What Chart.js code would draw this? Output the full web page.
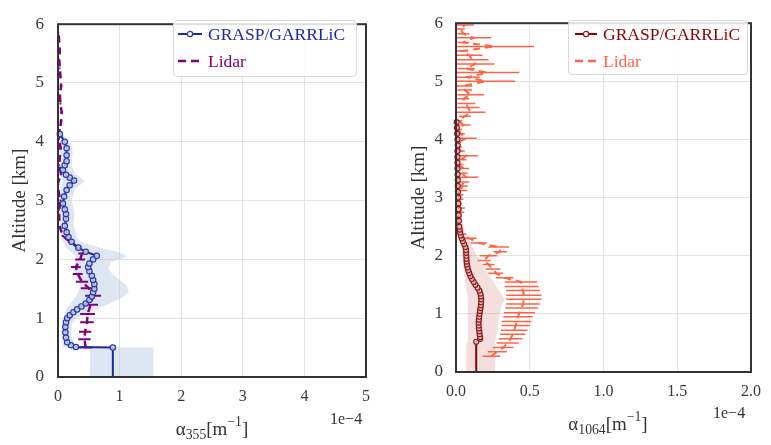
<!DOCTYPE html>
<html><head><meta charset="utf-8">
<script src="https://cdn.jsdelivr.net/npm/chart.js@4.4.0/dist/chart.umd.min.js"></script>
<style>
body{margin:0;background:#fff;width:771px;height:445px;overflow:hidden;position:relative;font-family:"Liberation Serif","Times New Roman",serif;}
.wrap{position:absolute;top:0;height:445px;}
.txt{position:absolute;color:#333;white-space:nowrap;line-height:1;}
.txt sub{font-size:0.72em;vertical-align:-0.3em;line-height:0;}
.txt sup{font-size:0.72em;vertical-align:0.65em;line-height:0;}
.legend{position:absolute;background:rgba(255,255,255,0.85);border:1px solid #d9d9d9;border-radius:4px;box-sizing:border-box;}
.row{position:absolute;left:0;height:22px;font-size:17.5px;line-height:22px;white-space:nowrap;}
.row svg{position:absolute;top:5px;}
.row span{position:absolute;}
</style></head>
<body>
<div class="wrap" style="left:0;width:385px"><canvas id="c1" width="385" height="445"></canvas></div>
<div class="wrap" style="left:385px;width:386px"><canvas id="c2" width="386" height="445"></canvas></div>

<div class="txt" style="left:112px;width:200px;text-align:center;top:419px;font-size:19px">α<sub>355</sub>[m<sup>−1</sup>]</div>
<div class="txt" style="left:330px;top:411px;font-size:16px">1e−4</div>
<div class="txt" style="left:508px;width:200px;text-align:center;top:414px;font-size:19px">α<sub>1064</sub>[m<sup>−1</sup>]</div>
<div class="txt" style="left:713px;top:405px;font-size:16px">1e−4</div>

<div class="legend" style="left:173px;top:20px;width:184px;height:57px">
  <div class="row" style="top:2px;width:180px;color:#1c2a9e">
    <svg width="24" height="12" style="left:4px"><line x1="0" y1="6" x2="24" y2="6" stroke="#1c2a9e" stroke-width="2"/><circle cx="12" cy="6" r="2.6" fill="#fff" stroke="#2a3aa8" stroke-width="1.2"/></svg>
    <span style="left:34px">GRASP/GARRLiC</span></div>
  <div class="row" style="top:29px;width:180px;color:#800080">
    <svg width="24" height="12" style="left:4px"><line x1="0" y1="6" x2="24" y2="6" stroke="#800080" stroke-width="2.5" stroke-dasharray="8,5"/></svg>
    <span style="left:34px">Lidar</span></div>
</div>
<div class="legend" style="left:568px;top:20px;width:180px;height:55px">
  <div class="row" style="top:2px;width:176px;color:#8b0000">
    <svg width="24" height="12" style="left:6px"><line x1="0" y1="6" x2="22" y2="6" stroke="#8b0000" stroke-width="2"/><circle cx="11" cy="6" r="2.6" fill="#fff" stroke="#8b1a1a" stroke-width="1.2"/></svg>
    <span style="left:34px">GRASP/GARRLiC</span></div>
  <div class="row" style="top:29px;width:176px;color:#ff6347">
    <svg width="24" height="12" style="left:6px"><line x1="0" y1="6" x2="22" y2="6" stroke="#ff6347" stroke-width="2.5" stroke-dasharray="8,5"/></svg>
    <span style="left:34px">Lidar</span></div>
</div>

<script>
// ---- tick labels ----
const yTicks = [0, 1, 2, 3, 4, 5, 6];
const leftXTicks = [0, 1, 2, 3, 4, 5];
const rightXTicks = [0, 0.5, 1.0, 1.5, 2.0];

// ---- left panel (355 nm), values in 1e-4 m^-1 ----
const leftGraspAlt = [0.0,0.5,0.51,0.54,0.59,0.67,0.76,0.85,0.93,1.0,1.05,1.1,1.15,1.2,1.25,1.31,1.37,1.44,1.5,1.58,1.65,1.72,1.8,1.87,1.93,2.0,2.06,2.13,2.2,2.3,2.38,2.46,2.57,2.69,2.77,2.85,2.95,3.07,3.18,3.26,3.34,3.39,3.44,3.52,3.6,3.67,3.77,3.89,4.0,4.13];
const leftGraspVal = [0.89,0.89,0.29,0.21,0.15,0.13,0.12,0.12,0.13,0.15,0.19,0.25,0.31,0.38,0.45,0.51,0.55,0.57,0.59,0.59,0.57,0.55,0.51,0.49,0.51,0.57,0.63,0.45,0.33,0.22,0.17,0.14,0.11,0.13,0.13,0.11,0.08,0.10,0.14,0.19,0.26,0.19,0.13,0.08,0.11,0.14,0.14,0.14,0.11,0.03];

const leftBandAlt  = [0, 0.5, 0.5, 0.55, 0.7, 0.9, 1.0, 1.05, 1.15, 1.25, 1.35, 1.45, 1.55, 1.65, 1.75, 1.85, 1.95, 2.05, 2.12, 2.2, 2.3, 2.4, 2.6, 2.8, 3.0, 3.2, 3.33, 3.45, 3.6, 3.8, 3.95, 4.1, 4.15];
const leftBandLow  = [0.52, 0.52, 0.07, 0.07, 0.06, 0.06, 0.08, 0.1, 0.13, 0.2, 0.28, 0.33, 0.36, 0.33, 0.29, 0.27, 0.28, 0.3, 0.22, 0.14, 0.08, 0.05, 0.04, 0.04, 0.03, 0.04, 0.08, 0.04, 0.03, 0.04, 0.03, 0.01, 0.02];
const leftBandHigh = [1.55, 1.55, 0.36, 0.26, 0.22, 0.22, 0.3, 0.41, 0.6, 0.84, 1.05, 1.15, 1.12, 1.0, 0.88, 0.82, 0.86, 1.12, 1.0, 0.68, 0.36, 0.3, 0.25, 0.27, 0.22, 0.28, 0.44, 0.28, 0.22, 0.24, 0.22, 0.1, 0.02];

const leftLidarAlt = [0.5,0.64,0.77,0.93,1.07,1.23,1.38,1.51,1.62,1.75,1.87,2.0,2.1,2.2,2.3,2.4,2.55,2.7,2.85,3.0,3.15,3.3,3.45,3.6,3.75,3.9,4.05,4.2,4.35,4.5,4.65,4.8,4.95,5.1,5.25,5.4,5.55,5.7,5.85];
const leftLidarVal = [0.45,0.43,0.44,0.47,0.48,0.53,0.57,0.5,0.39,0.32,0.29,0.36,0.39,0.33,0.19,0.08,0.03,0.02,0.02,0.04,0.01,0.0,0.05,0.02,0.03,0.04,0.02,0.03,0.05,0.06,0.04,0.03,0.05,0.04,0.03,0.02,0.03,0.02,0.01];
const leftLidarErr = [0.11,0.1,0.1,0.11,0.12,0.12,0.13,0.13,0.1,0.08,0.08,0.08,0.06,0.05,0.03,0.02,0.015,0.01,0.01,0.015,0.01,0.01,0.02,0.01,0.015,0.02,0.01,0.015,0.02,0.02,0.015,0.01,0.02,0.015,0.01,0.01,0.015,0.01,0.01];

// ---- right panel (1064 nm), values in 1e-4 m^-1 ----
const rightGraspAlt = [0.0,0.52,0.57,0.60,0.65,0.70,0.75,0.80,0.85,0.90,0.95,1.00,1.05,1.10,1.15,1.20,1.25,1.30,1.35,1.40,1.45,1.50,1.55,1.60,1.65,1.70,1.75,1.80,1.85,1.90,1.95,2.00,2.05,2.10,2.15,2.20,2.25,2.30,2.35,2.40,2.45,2.50,2.6,2.7,2.8,2.9,3.0,3.1,3.2,3.3,3.4,3.5,3.6,3.7,3.8,3.9,4.0,4.1,4.2,4.3];
const rightGraspVal = [0.137,0.137,0.164,0.163,0.16,0.158,0.155,0.154,0.153,0.155,0.157,0.16,0.163,0.166,0.169,0.17,0.171,0.169,0.165,0.158,0.146,0.132,0.12,0.108,0.098,0.09,0.083,0.078,0.074,0.072,0.071,0.07,0.069,0.068,0.064,0.055,0.046,0.038,0.032,0.028,0.025,0.022,0.02,0.018,0.017,0.016,0.015,0.013,0.012,0.012,0.011,0.01,0.01,0.01,0.01,0.012,0.01,0.008,0.006,0.004];

const rightBandAlt  = [0, 0.5, 0.5, 0.7, 0.9, 1.05, 1.15, 1.25, 1.4, 1.57, 1.76, 1.92, 2.08, 2.25, 2.42, 2.6, 3.0, 3.5, 4.0, 4.3];
const rightBandLow  = [0.07, 0.07, 0.08, 0.08, 0.08, 0.08, 0.08, 0.08, 0.07, 0.06, 0.05, 0.045, 0.04, 0.03, 0.015, 0.01, 0.005, 0.005, 0.003, 0.0];
const rightBandHigh = [0.265, 0.265, 0.26, 0.28, 0.29, 0.3, 0.31, 0.33, 0.29, 0.25, 0.2, 0.16, 0.126, 0.093, 0.06, 0.045, 0.035, 0.03, 0.025, 0.0];

const rightLidarAlt = [0.27,0.35,0.42,0.50,0.57,0.65,0.72,0.80,0.87,0.95,1.02,1.10,1.17,1.25,1.32,1.40,1.47,1.55,1.62,1.70,1.77,1.85,1.92,2.00,2.07,2.15,2.22,2.30,2.37,2.45,2.52,2.60,2.67,2.75,2.82,2.90,2.97,3.05,3.12,3.20,3.27,3.35,3.42,3.50,3.57,3.65,3.72,3.80,3.87,3.95,4.02,4.10,4.17,4.25,4.32,4.40,4.47,4.55,4.62,4.70,4.77,4.85,4.92,5.00,5.07,5.15,5.22,5.30,5.37,5.45,5.52,5.60,5.67,5.75,5.82,5.90,5.97];
const rightLidarVal = [0.24,0.28,0.32,0.35,0.37,0.385,0.395,0.405,0.41,0.42,0.43,0.445,0.455,0.46,0.46,0.455,0.445,0.44,0.33,0.27,0.25,0.22,0.19,0.22,0.30,0.29,0.155,0.09,0.04,
  0.02,0.02,0.015,0.02,0.03,0.03,0.02,0.025,0.03,0.035,0.04,0.05,0.07,0.04,0.05,0.02,0.03,0.07,0.03,0.02,0.015,0.07,0.03,0.02,0.05,0.02,0.06,0.1,0.08,0.07,0.05,0.1,0.06,0.05,0.2,0.08,0.21,0.07,0.13,0.11,0.09,0.04,0.26,0.05,0.12,0.05,0.03,0.06];
const rightLidarErr = [0.06,0.065,0.07,0.075,0.08,0.085,0.09,0.095,0.1,0.1,0.105,0.11,0.115,0.12,0.12,0.115,0.115,0.11,0.06,0.05,0.05,0.04,0.045,0.06,0.045,0.07,0.055,0.05,0.03,
  0.015,0.02,0.02,0.02,0.025,0.03,0.02,0.025,0.02,0.04,0.04,0.04,0.08,0.04,0.04,0.03,0.04,0.08,0.03,0.02,0.02,0.07,0.03,0.02,0.05,0.02,0.04,0.1,0.08,0.06,0.04,0.09,0.05,0.06,0.2,0.08,0.22,0.06,0.13,0.11,0.09,0.04,0.27,0.04,0.12,0.04,0.03,0.06];

// ---- helpers building library data tables from the arrays ----
function profile(alt, val) { return alt.map((a, i) => ({x: val[i], y: a})); }
function bandPolygon(alt, lo, hi) {
  const pts = alt.map((a, i) => ({x: lo[i], y: a}));
  for (let i = alt.length - 1; i >= 0; i--) pts.push({x: hi[i], y: alt[i]});
  return pts;
}
function errorSegments(alt, val, err) {
  const pts = [];
  alt.forEach((a, i) => { pts.push({x: val[i] - err[i], y: a}, {x: val[i] + err[i], y: a}, {x: null, y: null}); });
  return pts;
}

const framePlugin = {
  id: 'frame',
  afterDatasetsDraw(chart) {
    const {ctx, chartArea: a} = chart;
    ctx.save();
    ctx.strokeStyle = '#333';
    ctx.lineWidth = 2;
    ctx.strokeRect(a.left, a.top, a.right - a.left, a.bottom - a.top);
    ctx.restore();
  }
};

const FONT = '"Liberation Serif", "Times New Roman", serif';

function makeChart(id, p) {
  return new Chart(document.getElementById(id), {
    type: 'scatter',
    data: {
      datasets: [
        { // GRASP profile
          data: profile(p.graspAlt, p.graspVal), showLine: true, order: 0,
          borderColor: p.graspColor, borderWidth: 2,
          pointRadius: c => (c.raw && c.raw.y === 0 ? 0 : p.markerR),
          pointBorderColor: p.markerEdge, pointBorderWidth: 1.2,
          pointBackgroundColor: p.markerFill, clip: 4
        },
        { // lidar line
          data: profile(p.lidarAlt, p.lidarVal), showLine: true, order: 1,
          borderColor: p.lidarColor, borderWidth: p.lidarWidth, borderDash: [7, 5],
          pointRadius: 0
        },
        { // lidar error bars
          data: errorSegments(p.lidarAlt, p.lidarVal, p.lidarErr), showLine: true, order: 2,
          borderColor: p.lidarColor, borderWidth: p.errWidth, spanGaps: false, pointRadius: 0
        },
        { // uncertainty band
          data: bandPolygon(p.bandAlt, p.bandLow, p.bandHigh), showLine: true, order: 3,
          borderWidth: 0, borderColor: 'rgba(0,0,0,0)', pointRadius: 0,
          backgroundColor: p.bandColor, fill: 'shape'
        }
      ]
    },
    options: {
      responsive: false, animation: false,
      layout: {padding: p.padding},
      plugins: {legend: {display: false}, tooltip: {enabled: false}},
      scales: {
        x: {
          type: 'linear', min: 0, max: p.xTicks[p.xTicks.length - 1],
          afterBuildTicks: s => { s.ticks = p.xTicks.map(v => ({value: v})); },
          afterFit: s => { s.height = p.xHeight; },
          grid: {color: '#e4e4e4', lineWidth: 1, drawTicks: false},
          border: {display: false},
          ticks: {padding: 10, color: '#3a3a3a', font: {family: FONT, size: 16},
                  callback: v => p.xFmt(v), maxRotation: 0}
        },
        y: {
          type: 'linear', min: 0, max: 6,
          afterBuildTicks: s => { s.ticks = yTicks.map(v => ({value: v})); },
          afterFit: s => { s.width = p.yWidth; },
          grid: {color: '#e4e4e4', lineWidth: 1, drawTicks: false},
          border: {display: false},
          ticks: {padding: p.yPad, color: '#3a3a3a', font: {family: FONT, size: 17}},
          title: {display: true, text: 'Altitude [km]', color: '#333',
                  font: {family: FONT, size: 19}, padding: {top: 9, bottom: 0}}
        }
      }
    },
    plugins: [framePlugin]
  });
}

makeChart('c1', {
  graspAlt: leftGraspAlt, graspVal: leftGraspVal, graspColor: '#1c2a9e', markerEdge: '#2a3aa8',
  markerR: 2.7, markerFill: 'rgba(210,222,240,0.8)',
  lidarAlt: leftLidarAlt, lidarVal: leftLidarVal, lidarErr: leftLidarErr,
  lidarColor: '#800080', lidarWidth: 2.5, errWidth: 2,
  bandAlt: leftBandAlt, bandLow: leftBandLow, bandHigh: leftBandHigh, bandColor: 'rgba(176,196,222,0.42)',
  xTicks: leftXTicks, xFmt: v => String(v),
  padding: {top: 11, right: 19, left: 0, bottom: 0}, xHeight: 68, yWidth: 58, yPad: 14
});

makeChart('c2', {
  graspAlt: rightGraspAlt, graspVal: rightGraspVal, graspColor: '#8b0000', markerEdge: '#8b1a1a',
  markerR: 2.5, markerFill: 'rgba(245,215,215,0.8)',
  lidarAlt: rightLidarAlt, lidarVal: rightLidarVal, lidarErr: rightLidarErr,
  lidarColor: '#ff6347', lidarWidth: 2, errWidth: 1.5,
  bandAlt: rightBandAlt, bandLow: rightBandLow, bandHigh: rightBandHigh, bandColor: 'rgba(205,92,92,0.2)',
  xTicks: rightXTicks, xFmt: v => v.toFixed(1),
  padding: {top: 12, right: 13, left: 14, bottom: 0}, xHeight: 73, yWidth: 57, yPad: 13
});
</script>
</body></html>
